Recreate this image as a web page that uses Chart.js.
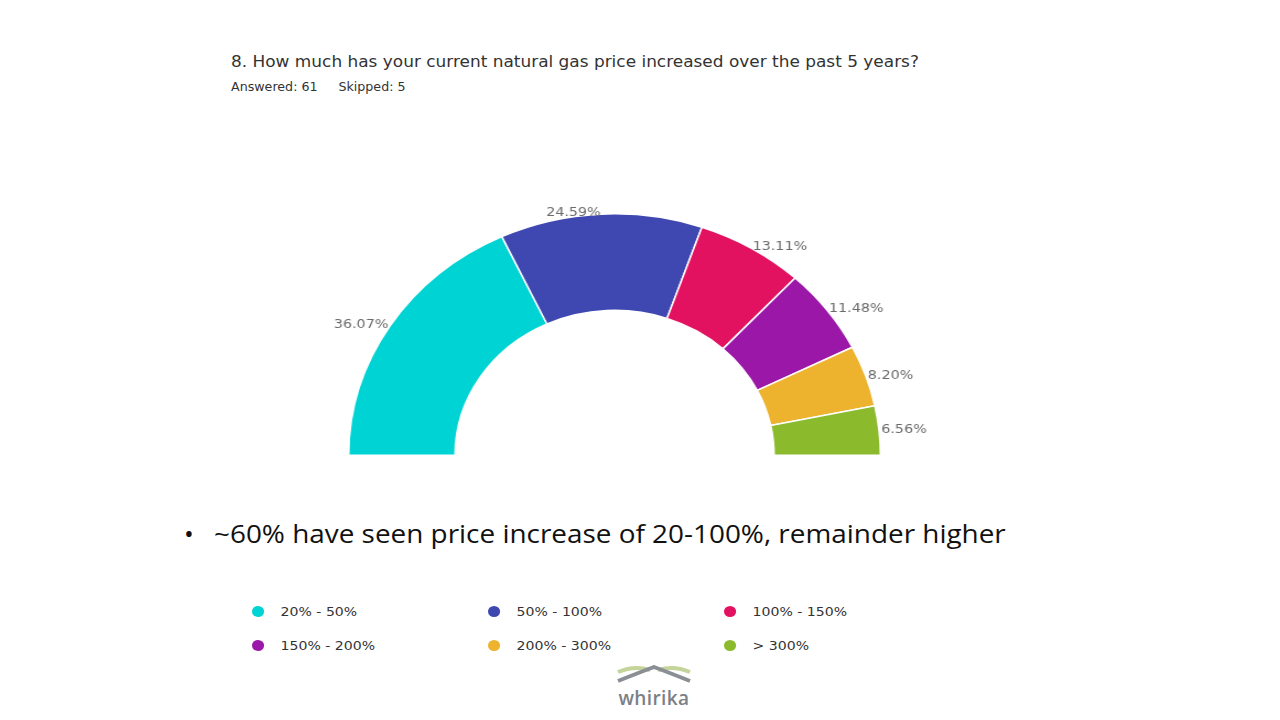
<!DOCTYPE html>
<html>
<head>
<meta charset="utf-8">
<script src="https://cdn.jsdelivr.net/npm/chart.js@4/dist/chart.umd.min.js"></script>
<style>
  body { margin: 0; width: 1280px; height: 720px; background: #fff; position: relative; overflow: hidden; font-family: "DejaVu Sans", sans-serif; }
  .stretch { position: absolute; transform: scaleX(1.1); transform-origin: left top; white-space: nowrap; }
  #title { left: 231px; top: 53px; font-size: 15.4px; color: #333; }
  #sub { left: 231px; top: 80px; font-size: 11.5px; color: #333; }
  #sub span { margin-right: 19px; }
  #chartBox { position: absolute; left: 306px; top: 186px; width: 600px; height: 290px; transform: scaleX(1.102); transform-origin: left top; }
  #bullet { position: absolute; left: 184px; top: 515px; font-family: "Open Sans", sans-serif; font-size: 26px; color: #111; white-space: nowrap; }
  #bullet .dot { display: inline-block; width: 30px; }
  #bullet .txt { display: inline-block; transform: scaleX(1.073); transform-origin: left center; }
  #legend { position: absolute; left: 252px; top: 604px; width: 720px; }
  .item { position: absolute; font-size: 12.8px; color: #333; white-space: nowrap; transform: scaleX(1.1); transform-origin: left top; }
  .item i { display: inline-block; width: 11px; height: 11px; border-radius: 50%; margin-right: 15px; vertical-align: -1px; }
  #logo { position: absolute; left: 616px; top: 662px; width: 76px; text-align: center; }
  #logo .word { font-family: "Open Sans", sans-serif; font-weight: 600; font-size: 19px; color: #7b8087; line-height: 20px; letter-spacing: 0.4px; }
</style>
</head>
<body>
<div id="title" class="stretch">8. How much has your current natural gas price increased over the past 5 years?</div>
<div id="sub" class="stretch"><span>Answered: 61</span>Skipped: 5</div>
<div id="chartBox"><canvas id="grafico"></canvas></div>
<div id="bullet"><span class="dot">•</span><span class="txt">~60% have seen price increase of 20-100%, remainder higher</span></div>
<div id="legend"></div>
<div id="logo">
  <svg width="76" height="22" viewBox="0 0 76 22">
    <path d="M2 10 Q18 3 34 8" stroke="#c5d49a" stroke-width="4" fill="none"/>
    <path d="M42 8 Q58 3 74 10" stroke="#c5d49a" stroke-width="4" fill="none"/>
    <path d="M2 19 Q22 11 38 5 Q54 11 74 19" stroke="#8a8f95" stroke-width="4" fill="none"/>
  </svg>
  <div class="word">whirika</div>
</div>
<script>
// DADOS
const categorias = ['20% - 50%', '50% - 100%', '100% - 150%', '150% - 200%', '200% - 300%', '> 300%'];
const percentuais = [36.07, 24.59, 13.11, 11.48, 8.20, 6.56];
const cores = ['#00d3d3', '#3f48b0', '#e31260', '#9b17a8', '#edb22e', '#8bba2c'];

// LEGENDA
const legenda = document.getElementById('legend');
const colX = [0, 236, 472];
const rowY = [0, 34];
categorias.forEach((nome, i) => {
    const el = document.createElement('div');
    el.className = 'item';
    el.style.left = colX[i % 3] + 'px';
    el.style.top = rowY[Math.floor(i / 3)] + 'px';
    el.innerHTML = '<i style="background:' + cores[i] + '"></i>' + nome;
    legenda.appendChild(el);
});

// RÓTULOS FORA DO ARCO
const rotulos = {
    id: 'rotulos',
    afterDatasetsDraw(chart) {
        const ctx = chart.ctx;
        const meta = chart.getDatasetMeta(0);
        ctx.save();
        ctx.font = '13px "DejaVu Sans"';
        ctx.fillStyle = '#6b6b6b';
        ctx.textBaseline = 'middle';
        meta.data.forEach((arc, i) => {
            const p = arc.getProps(['x', 'y', 'startAngle', 'endAngle', 'outerRadius'], true);
            const meio = (p.startAngle + p.endAngle) / 2;
            const r = p.outerRadius + 2;
            const x = p.x + Math.cos(meio) * r;
            const y = p.y + Math.sin(meio) * r;
            ctx.textAlign = x < p.x ? 'right' : 'left';
            ctx.fillText(percentuais[i].toFixed(2) + '%', x, y);
        });
        ctx.restore();
    }
};

const ctx = document.getElementById('grafico').getContext('2d');
new Chart(ctx, {
    type: 'doughnut',
    data: {
        labels: categorias,
        datasets: [{
            data: percentuais,
            backgroundColor: cores,
            borderColor: '#fff',
            borderWidth: 1.5
        }]
    },
    options: {
        responsive: true,
        maintainAspectRatio: false,
        animation: false,
        rotation: -90,
        circumference: 180,
        cutout: '60%',
        layout: { padding: { top: 27, bottom: 20, left: 38, right: 78 } },
        plugins: {
            legend: { display: false },
            tooltip: { enabled: false }
        }
    },
    plugins: [rotulos]
});
</script>
</body>
</html>
